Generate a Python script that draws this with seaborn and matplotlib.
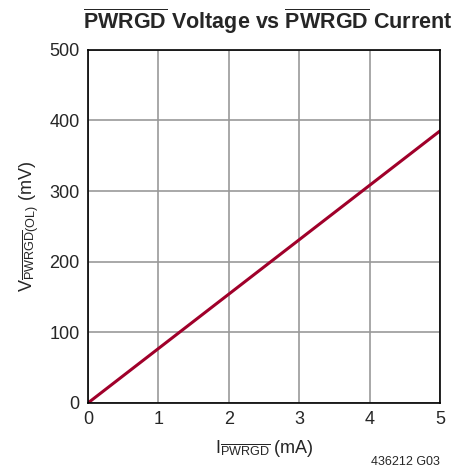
import matplotlib
matplotlib.use('Agg')
import matplotlib.pyplot as plt
import seaborn as sns
import pandas as pd
from matplotlib import font_manager

sns.set_style("white")

names = {f.name for f in font_manager.fontManager.ttflist}
narrow = 'Liberation Sans Narrow' if 'Liberation Sans Narrow' in names else 'Liberation Sans'
plt.rcParams['font.family'] = [narrow, 'DejaVu Sans']
plt.rcParams['mathtext.fontset'] = 'custom'
plt.rcParams['mathtext.rm'] = narrow
plt.rcParams['mathtext.it'] = narrow
plt.rcParams['mathtext.bf'] = narrow + ':bold'

# data
current_ma = [0, 1, 2, 3, 4, 5]
voltage_mv = [0, 77, 154, 231, 308, 385]
x_ticks = [0, 1, 2, 3, 4, 5]
y_ticks = [0, 100, 200, 300, 400, 500]

df = pd.DataFrame({'I': current_ma, 'V': voltage_mv})

fig = plt.figure(figsize=(4.66, 4.74), dpi=100)
ax = fig.add_axes([0.189, 0.150, 0.755, 0.745])

sns.lineplot(data=df, x='I', y='V', color='#a0002a', linewidth=2.2, ax=ax)

ax.set_xlim(0, 5)
ax.set_ylim(0, 500)
ax.set_xticks(x_ticks)
ax.set_yticks(y_ticks)
ax.grid(True, color='#999999', linewidth=1.2)
for s in ax.spines.values():
    s.set_color('black')
    s.set_linewidth(1.2)
ax.tick_params(labelsize=13, length=0, pad=6)

ax.set_xlabel(r'I$_{\overline{\mathrm{PWRGD}}}$ (mA)', fontsize=13, labelpad=7)
ax.set_ylabel(r'V$_{\overline{\mathrm{PWRGD}}\mathrm{(OL)}}$ (mV)', fontsize=13, labelpad=6)

fig.text(0.575, 0.955, r'$\overline{\mathbf{PWRGD}}$ Voltage vs $\overline{\mathbf{PWRGD}}$ Current',
         ha='center', va='center', fontsize=15.5, fontweight='bold')
fig.text(0.945, 0.025, '436212 G03', ha='right', va='center', fontsize=9)

plt.savefig('out.png', dpi=100)
